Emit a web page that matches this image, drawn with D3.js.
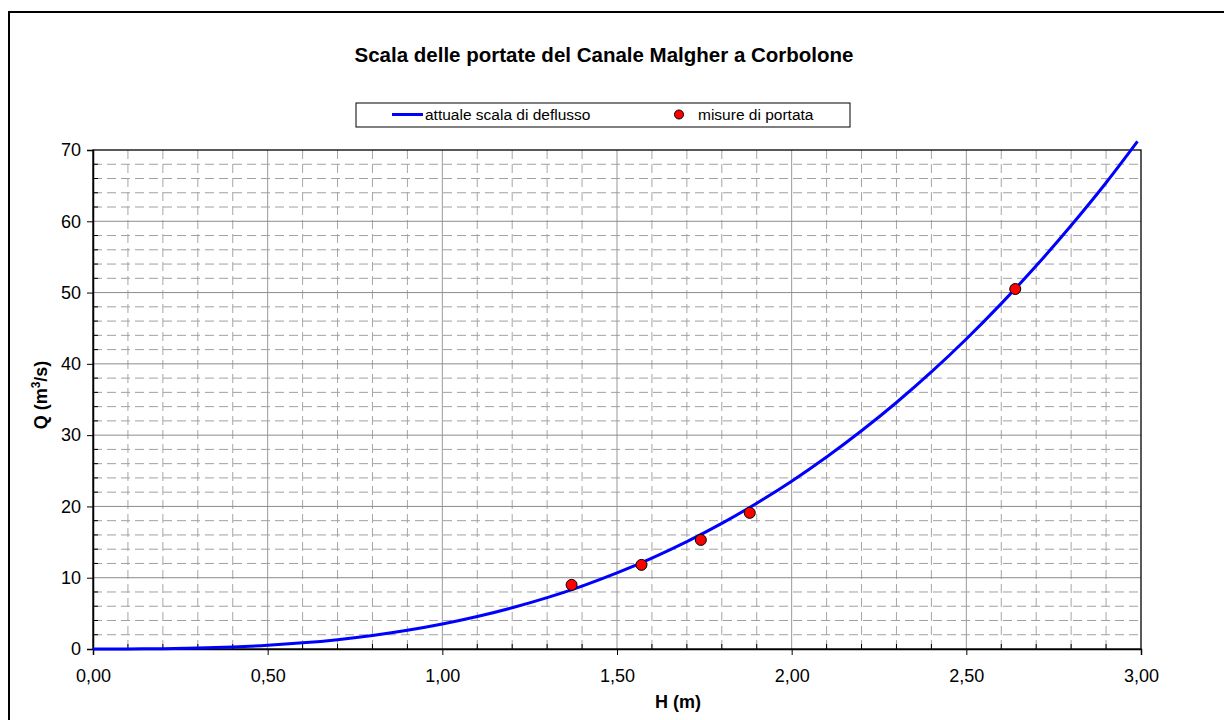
<!DOCTYPE html>
<html>
<head>
<meta charset="utf-8">
<script src="https://cdn.jsdelivr.net/npm/d3@7"></script>
<style>
  body { margin: 0; background: #fff; }
  svg { display: block; font-family: "Liberation Sans", Arial, sans-serif; }
</style>
</head>
<body>
<svg id="chart" width="1224" height="720"></svg>
<script>
// Rating curve readings (H in m, Q in m^3/s)
const curveH = [0, 0.1, 0.2, 0.3, 0.4, 0.5, 0.6, 0.7, 0.8, 0.9, 1.0, 1.1, 1.2, 1.3, 1.4, 1.5, 1.6, 1.7, 1.8, 1.9, 2.0, 2.1, 2.2, 2.3, 2.4, 2.5, 2.6, 2.7, 2.8, 2.9, 2.99];
const curveQ = [0, 0.01, 0.04, 0.13, 0.28, 0.52, 0.86, 1.31, 1.89, 2.62, 3.5, 4.55, 5.78, 7.2, 8.83, 10.67, 12.75, 15.06, 17.62, 20.45, 23.54, 26.93, 30.61, 34.58, 38.87, 43.49, 48.45, 53.75, 59.4, 65.4, 71.2];
// Measured discharges
const measH = [1.37, 1.57, 1.74, 1.88, 2.64];
const measQ = [9.0, 11.8, 15.3, 19.1, 50.5];
// Tick labels
const xTicks = [0, 0.5, 1.0, 1.5, 2.0, 2.5, 3.0];
const xTickLabels = ["0,00", "0,50", "1,00", "1,50", "2,00", "2,50", "3,00"];
const yTicks = [0, 10, 20, 30, 40, 50, 60, 70];
const yTickLabels = ["0", "10", "20", "30", "40", "50", "60", "70"];

const titleText = "Scala delle portate del Canale Malgher a Corbolone";
const seriesNames = ["attuale scala di deflusso", "misure di portata"];

const svg = d3.select("#chart");
const L = 93, R = 1141, T = 150, B = 649;
const x = d3.scaleLinear().domain([0, 3]).range([L, R]);
const y = d3.scaleLinear().domain([0, 70]).range([B, T]);

// outer frame
svg.append("rect").attr("x", 9).attr("y", 12).attr("width", 1230).attr("height", 720)
  .attr("fill", "none").attr("stroke", "#000").attr("stroke-width", 2);

// minor grid
const xMinor = d3.range(1, 30).map(i => i / 10).filter(v => Math.abs(v * 2 - Math.round(v * 2)) > 1e-6);
const yMinor = d3.range(2, 70, 2).filter(v => v % 10 !== 0);
const g = svg.append("g");
g.selectAll(".vminor").data(xMinor).join("line")
  .attr("x1", d => x(d)).attr("x2", d => x(d)).attr("y1", T).attr("y2", B)
  .attr("stroke", "#a6a6a6").attr("stroke-width", 1).attr("stroke-dasharray", "9,5");
g.selectAll(".hminor").data(yMinor).join("line")
  .attr("x1", L).attr("x2", R).attr("y1", d => y(d)).attr("y2", d => y(d))
  .attr("stroke", "#a0a0a0").attr("stroke-width", 1).attr("stroke-dasharray", "9,5");
// major grid
g.selectAll(".vmajor").data(xTicks.slice(1, -1)).join("line")
  .attr("x1", d => x(d)).attr("x2", d => x(d)).attr("y1", T).attr("y2", B)
  .attr("stroke", "#999").attr("stroke-width", 1);
g.selectAll(".hmajor").data(yTicks.slice(1, -1)).join("line")
  .attr("x1", L).attr("x2", R).attr("y1", d => y(d)).attr("y2", d => y(d))
  .attr("stroke", "#8c8c8c").attr("stroke-width", 1);

// plot border
svg.append("rect").attr("x", L).attr("y", T).attr("width", R - L).attr("height", B - T)
  .attr("fill", "none").attr("stroke", "#000").attr("stroke-width", 1.3);

// axes
const xAxis = d3.axisBottom(x).tickValues(xTicks).tickFormat((d, i) => xTickLabels[i]).tickSize(6).tickPadding(14);
const xg = svg.append("g").attr("transform", `translate(0,${B})`).call(xAxis);
xg.select(".domain").attr("stroke", "#000").attr("stroke-width", 1.5);
xg.selectAll("text").attr("font-size", 18).attr("fill", "#000").attr("font-family", "Liberation Sans, Arial");
// minor x ticks inside
svg.append("g").selectAll("line").data(xMinor).join("line")
  .attr("x1", d => x(d)).attr("x2", d => x(d)).attr("y1", B).attr("y2", B - 5).attr("stroke", "#000");

const yAxis = d3.axisLeft(y).tickValues(yTicks).tickFormat((d, i) => yTickLabels[i]).tickSize(6).tickPadding(6);
const yg = svg.append("g").attr("transform", `translate(${L},0)`).call(yAxis);
yg.select(".domain").attr("stroke", "#000").attr("stroke-width", 1.5);
yg.selectAll("text").attr("font-size", 18).attr("fill", "#000").attr("font-family", "Liberation Sans, Arial");
svg.append("g").selectAll("line").data(yMinor).join("line")
  .attr("x1", L).attr("x2", L + 5).attr("y1", d => y(d)).attr("y2", d => y(d)).attr("stroke", "#000");

// curve
const pts = curveH.map((h, i) => [h, curveQ[i]]);
const line = d3.line().x(d => x(d[0])).y(d => y(d[1])).curve(d3.curveMonotoneX);
svg.append("path").datum(pts).attr("d", line).attr("fill", "none")
  .attr("stroke", "#0000ff").attr("stroke-width", 3);

// measurements
svg.append("g").selectAll("circle").data(measH.map((h, i) => [h, measQ[i]])).join("circle")
  .attr("cx", d => x(d[0])).attr("cy", d => y(d[1])).attr("r", 5.5)
  .attr("fill", "#ff0000").attr("stroke", "#000").attr("stroke-width", 1);

// title
svg.append("text").attr("x", 604).attr("y", 62).attr("text-anchor", "middle")
  .attr("font-size", 20.5).attr("font-weight", "bold").text(titleText);

// legend
svg.append("rect").attr("x", 356).attr("y", 103).attr("width", 494).attr("height", 24)
  .attr("fill", "#fff").attr("stroke", "#000").attr("stroke-width", 1);
svg.append("line").attr("x1", 392).attr("x2", 423).attr("y1", 114.5).attr("y2", 114.5)
  .attr("stroke", "#0000ff").attr("stroke-width", 3);
svg.append("text").attr("x", 425).attr("y", 120).attr("font-size", 15.5).text(seriesNames[0]);
svg.append("circle").attr("cx", 679).attr("cy", 114.5).attr("r", 4.5)
  .attr("fill", "#ff0000").attr("stroke", "#000");
svg.append("text").attr("x", 698).attr("y", 120).attr("font-size", 15.5).text(seriesNames[1]);

// axis titles
svg.append("text").attr("x", 678).attr("y", 708).attr("text-anchor", "middle")
  .attr("font-size", 18).attr("font-weight", "bold").text("H (m)");
const yt = svg.append("text").attr("transform", "translate(47,395) rotate(-90)")
  .attr("text-anchor", "middle").attr("font-size", 18).attr("font-weight", "bold");
yt.append("tspan").text("Q (m");
yt.append("tspan").attr("baseline-shift", "super").attr("font-size", 12).text("3");
yt.append("tspan").text("/s)");
</script>
</body>
</html>
